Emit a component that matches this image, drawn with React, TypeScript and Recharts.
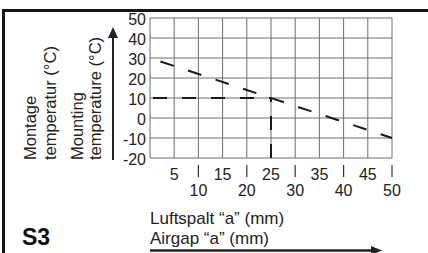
import { LineChart, Line, XAxis, YAxis, CartesianGrid } from 'recharts'

const airgapTicks = [0, 5, 10, 15, 20, 25, 30, 35, 40, 45, 50]
const tempTicks = [-20, -10, 0, 10, 20, 30, 40, 50]

const mountingLine = [
  { a: 0, t: 30 },
  { a: 50, t: -10 },
]
const readHorizontal = [
  { a: 0, t: 10 },
  { a: 25, t: 10 },
]
const readVertical = [
  { a: 25, t: -20 },
  { a: 25, t: 10 },
]

const font = '"Liberation Sans", Arial, Helvetica, sans-serif'
const ink = '#222'

function AirgapTick(props: any) {
  const { x, y, payload } = props
  const v = payload.value
  if (v === 0) return null
  const even = v % 10 === 0
  return (
    <g>
      {even && <line x1={x} x2={x} y1={y + 7} y2={y + 19} stroke="#333" strokeWidth={1.2} />}
      <text
        x={x}
        y={even ? y + 32 : y + 16}
        textAnchor="middle"
        dominantBaseline="central"
        fill={ink}
        fontSize={16}
        fontFamily={font}
      >
        {v}
      </text>
    </g>
  )
}

function TempTick(props: any) {
  const { x, y, payload } = props
  return (
    <text x={x} y={y + 1} textAnchor="end" dominantBaseline="central" fill={ink} fontSize={16} fontFamily={font}>
      {payload.value}
    </text>
  )
}

export default function App() {
  return (
    <div style={{ position: 'absolute', left: 0, top: 0, width: 428, height: 253, background: '#fff' }}>
      <LineChart width={428} height={253} margin={{ top: 18, right: 36, bottom: 35, left: 100 }}>
        <CartesianGrid stroke="#6e6e6e" strokeWidth={1} />
        <XAxis
          type="number"
          dataKey="a"
          domain={[0, 50]}
          ticks={airgapTicks}
          interval={0}
          axisLine={false}
          tickLine={false}
          tickSize={0}
          tickMargin={0}
          height={60}
          tick={<AirgapTick />}
        />
        <YAxis
          type="number"
          dataKey="t"
          domain={[-20, 50]}
          ticks={tempTicks}
          interval={0}
          axisLine={false}
          tickLine={false}
          tickSize={0}
          tickMargin={4}
          width={50}
          tick={<TempTick />}
        />
        <Line
          data={mountingLine}
          dataKey="t"
          stroke="#1a1a1a"
          strokeWidth={2}
          strokeDasharray="14 15"
          strokeDashoffset={18}
          dot={false}
          isAnimationActive={false}
        />
        <Line
          data={readHorizontal}
          dataKey="t"
          stroke="#1a1a1a"
          strokeWidth={2}
          strokeDasharray="14 15"
          strokeDashoffset={26}
          dot={false}
          isAnimationActive={false}
        />
        <Line
          data={readVertical}
          dataKey="t"
          stroke="#1a1a1a"
          strokeWidth={2}
          strokeDasharray="14 14"
          dot={false}
          isAnimationActive={false}
        />
      </LineChart>
      <svg
        width={428}
        height={253}
        style={{ position: 'absolute', left: 0, top: 0, pointerEvents: 'none' }}
      >
        <line x1={2} x2={428} y1={10.5} y2={10.5} stroke="#151515" strokeWidth={3} />
        <line x1={3.5} x2={3.5} y1={9} y2={253} stroke="#151515" strokeWidth={3} />

        <g fontFamily={font} fontSize={16.5} fill={ink}>
          <text transform="translate(36,160) rotate(-90)">Montage</text>
          <text transform="translate(56,160) rotate(-90)">temperatur (°C)</text>
          <text transform="translate(83,160) rotate(-90)">Mounting</text>
          <text transform="translate(101,160) rotate(-90)">temperature (°C)</text>
        </g>

        <line x1={113} x2={113} y1={160} y2={36} stroke="#222" strokeWidth={2} />
        <polygon points="113,27 108,38 118,38" fill="#222" />

        <g fontFamily={font} fontSize={17} fill={ink}>
          <text x={150} y={218} dominantBaseline="central">Luftspalt “a” (mm)</text>
          <text x={150} y={238} dominantBaseline="central">Airgap “a” (mm)</text>
        </g>
        <line x1={150} x2={372} y1={250.5} y2={250.5} stroke="#222" strokeWidth={2.5} />
        <polygon points="382,250.5 371,246 371,255" fill="#222" />

        <text x={22} y={237} dominantBaseline="central" fontFamily={font} fontSize={23} fontWeight="bold" fill="#111">
          S3
        </text>
      </svg>
    </div>
  )
}
